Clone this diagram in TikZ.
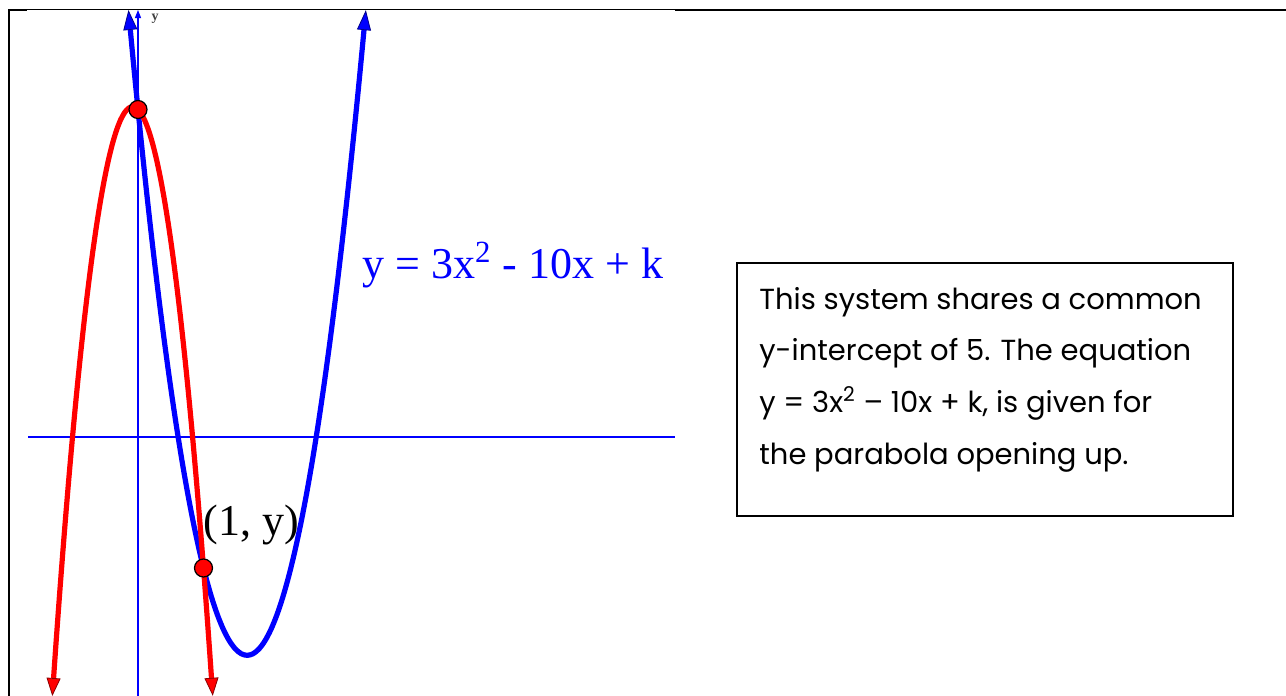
\documentclass[tikz,border=0pt]{standalone}
\usepackage{fontspec}
\setmainfont{Liberation Serif}
\newfontfamily\notefont{Poppins}
\usetikzlibrary{arrows.meta,positioning}
\definecolor{PlotBlue}{HTML}{0000FF}
\definecolor{PlotRed}{HTML}{FF0000}
\definecolor{TipBlue}{HTML}{00008A}
\definecolor{TipRed}{HTML}{8A0000}

\begin{document}
\begin{tikzpicture}[x=0.5pt,y=-0.5pt,>=Latex,
    bluetip/.tip={Triangle[length=10pt,width=7pt,line width=0.4pt,fill=PlotBlue,color=TipBlue]},
    redtip/.tip={Triangle[length=9pt,width=7pt,line width=0.4pt,fill=PlotRed,color=TipRed]},
    dot/.style={circle, fill=PlotRed, draw=black, line width=0.6pt, minimum size=9pt, inner sep=0pt},
    curve/.style={line width=2.6pt}]
        \useasboundingbox (0,0) rectangle (1286,696);
        % frame of the table cell
        \draw[line width=1pt] (8.5,696) -- (8.5,10) -- (27,10);
        \draw[line width=0.6pt] (27,9.5) -- (675,9.5);
        \draw[line width=1pt] (675,10) -- (1286,10);
        % axes
        \draw[PlotBlue, line width=1pt] (28,437) -- (675,437);
        \draw[PlotBlue, line width=0.6pt, -{Triangle[length=4pt,width=3pt]}] (138,696) -- (138,10);
        \node[text=black!75, font=\fontsize{7}{8}\selectfont\bfseries] (ylab) at (155,19) {y};
        % the two parabolas, one unit = 65.5px
        \begin{scope}[shift={(138,437)}, x=32.75pt, y=32.75pt]
            \draw[PlotBlue, curve, bluetip-bluetip] plot[domain=-0.1456:3.479, samples=41, smooth] (\x,{3*\x*\x-10*\x+5});
            \draw[PlotRed, curve, redtip-redtip] plot[domain=-1.3078:1.1411, samples=41, smooth] (\x,{-6*\x*\x-\x+5});
            \node[dot] (yint) at (0,5) {};
            \node[dot] (pt) at (1,-2) {};
        \end{scope}
        \node[text=PlotBlue, font=\fontsize{22}{26}\selectfont, anchor=base west, inner sep=0pt] (eqn) at (362,278) {y = 3x\textsuperscript{2} - 10x + k};
        \node[font=\fontsize{22}{26}\selectfont, anchor=base west, inner sep=0pt] (ptlab) at (203,535) {(1, y)};
        % note box
        \node[draw, line width=0.8pt, minimum width=248pt, minimum height=126.5pt, anchor=north west, inner sep=0pt] (box) at (736,262) {};
        \node[font=\notefont\fontsize{14.5}{25.8}\selectfont, align=left, anchor=base west, inner sep=0pt] (note) at (759,464)
            {This system shares a common\\y-intercept of 5. The equation\\y = 3x\textsuperscript{2} – 10x + k, is given for\\the parabola opening up.};
\end{tikzpicture}
\end{document}
